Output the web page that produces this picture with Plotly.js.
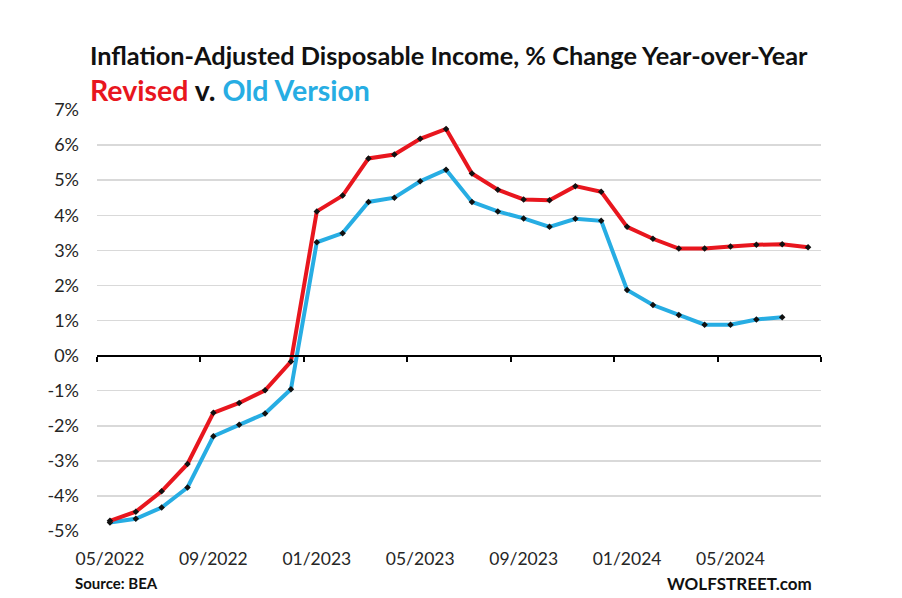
<!DOCTYPE html>
<html>
<head>
<meta charset="utf-8">
<script src="https://cdn.plot.ly/plotly-3.0.1.min.js"></script>
<style>html,body{margin:0;padding:0;background:#fff;}#chart{width:902px;height:598px;}</style>
</head>
<body>
<div id="chart"></div>
<script>
const months = ["05/2022","06/2022","07/2022","08/2022","09/2022","10/2022","11/2022","12/2022",
  "01/2023","02/2023","03/2023","04/2023","05/2023","06/2023","07/2023","08/2023","09/2023","10/2023","11/2023","12/2023",
  "01/2024","02/2024","03/2024","04/2024","05/2024","06/2024","07/2024","08/2024"];
const revised = [-4.71,-4.45,-3.87,-3.09,-1.63,-1.35,-0.99,-0.17,
  4.11,4.56,5.62,5.73,6.18,6.46,5.19,4.73,4.45,4.43,4.83,4.67,
  3.67,3.33,3.05,3.05,3.11,3.16,3.17,3.09];
const oldVersion = [-4.76,-4.65,-4.33,-3.76,-2.30,-1.97,-1.65,-0.96,
  3.23,3.49,4.38,4.50,4.97,5.30,4.38,4.11,3.91,3.67,3.90,3.84,
  1.87,1.44,1.16,0.88,0.88,1.03,1.09];
const labelMonths = ["05/2022","09/2022","01/2023","05/2023","09/2023","01/2024","05/2024"];
const yTicks = [-5,-4,-3,-2,-1,0,1,2,3,4,5,6,7];

const idx = months.map((m,i)=>i);
const labelIdx = labelMonths.map(m=>months.indexOf(m));
const boundaries = [];
for (let i = 0; i <= months.length; i += 4) boundaries.push(i - 0.5);

const RED = '#e8161e', BLUE = '#27ade3';
const FONT = 'Lato, "Open Sans", sans-serif';
const TICKFONT = 'Lato, sans-serif';

const traces = [
  {x: idx.slice(0, oldVersion.length), y: oldVersion, mode:'lines+markers', name:'Old Version',
   line:{color:BLUE, width:4}, marker:{color:'#111', size:5, symbol:'diamond'}, hoverinfo:'skip'},
  {x: idx, y: revised, mode:'lines+markers', name:'Revised',
   line:{color:RED, width:4}, marker:{color:'#111', size:5, symbol:'diamond'}, hoverinfo:'skip'}
];

const range = [-0.5, months.length - 0.5];
const layout = {
  width:902, height:598,
  margin:{l:97, r:81, t:110, b:67},
  paper_bgcolor:'#fff', plot_bgcolor:'#fff',
  showlegend:false,
  font:{family:FONT, color:'#262626'},
  xaxis:{range:range, tickmode:'array', tickvals:labelIdx, ticktext:labelMonths,
    showgrid:false, zeroline:false, showline:false, ticks:'',
    tickfont:{size:17.5, color:'#262626', family:TICKFONT}, ticklabelstandoff:15, fixedrange:true},
  xaxis2:{overlaying:'x', anchor:'free', position:5/12, range:range, tickmode:'array', tickvals:boundaries,
    showticklabels:false, showgrid:false, zeroline:false, showline:true, linecolor:'#000', linewidth:2,
    ticks:'outside', ticklen:5, tickwidth:2, tickcolor:'#000'},
  yaxis:{range:[-5,7], tickmode:'array', tickvals:yTicks, ticktext:yTicks.map(v=>v+'%'),
    showgrid:true, gridcolor:'#d9d9d9', gridwidth:1.5, zeroline:false, showline:false, ticks:'',
    tickfont:{size:18, color:'#262626', family:TICKFONT}, ticklabelstandoff:17},
  annotations:[
    {xref:'paper', yref:'paper', x:-0.0124, y:1.0, yshift:55, xanchor:'left', yanchor:'middle', showarrow:false,
     text:'<b>Inflation-Adjusted Disposable Income, % Change Year-over-Year</b>', font:{size:25.3, color:'#111', family:FONT}},
    {xref:'paper', yref:'paper', x:-0.0124, y:1.0, yshift:20, xanchor:'left', yanchor:'middle', showarrow:false,
     text:'<b><span style="color:'+RED+'">Revised</span> <span style="color:#111">v.</span> <span style="color:'+BLUE+'">Old Version</span></b>',
     font:{size:28.5, family:FONT}},
    {xref:'paper', yref:'paper', x:-0.033, y:0, yshift:-52, xanchor:'left', yanchor:'middle', showarrow:false,
     text:'<b>Source: BEA</b>', font:{size:15, color:'#111', family:FONT}},
    {xref:'paper', yref:'paper', x:0.99, y:0, yshift:-52, xanchor:'right', yanchor:'middle', showarrow:false,
     text:'<b>WOLFSTREET.com</b>', font:{size:17, color:'#111', family:FONT}}
  ]
};
traces.push({x:[], y:[], xaxis:'x2', yaxis:'y', hoverinfo:'skip', showlegend:false});
Plotly.newPlot('chart', traces, layout, {staticPlot:true, displayModeBar:false});
</script>
</body>
</html>
